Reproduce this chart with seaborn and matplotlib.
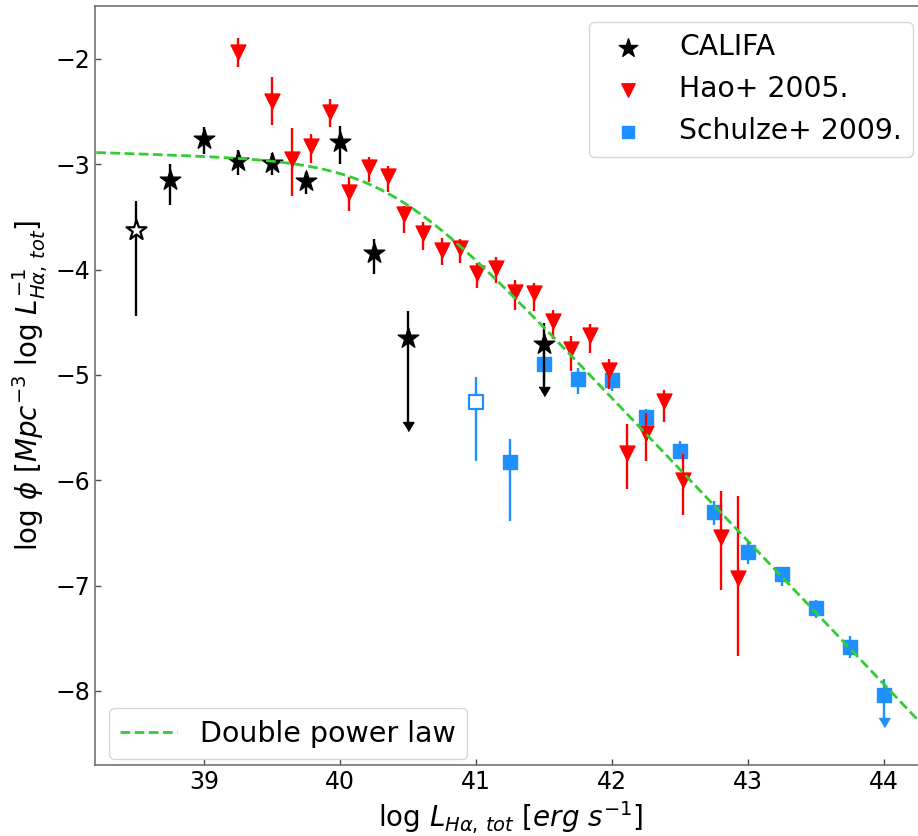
import numpy as np
import matplotlib
matplotlib.use("Agg")
import matplotlib.pyplot as plt
import seaborn as sns

# ---------------- data ----------------
califa_x = [38.5, 38.75, 39.0, 39.25, 39.5, 39.75, 40.0, 40.25, 40.5, 41.5]
califa_y = [-3.62, -3.15, -2.76, -2.97, -2.99, -3.16, -2.79, -3.84, -4.65, -4.71]
califa_hi = [-3.35, -3.00, -2.65, -2.86, -2.89, -3.07, -2.64, -3.71, -4.39, -4.51]
califa_lo = [-4.44, -3.39, -2.90, -3.10, -3.10, -3.28, -3.00, -4.04, -5.45, -5.11]
califa_uplim = [False, False, False, False, False, False, False, False, True, True]
califa_open = [True, False, False, False, False, False, False, False, False, False]

hao_x = [39.25, 39.50, 39.65, 39.79, 39.93, 40.07, 40.21, 40.35, 40.47, 40.61,
         40.75, 40.88, 41.01, 41.15, 41.29, 41.43, 41.57, 41.70, 41.84, 41.98,
         42.11, 42.25, 42.38, 42.52, 42.80, 42.93]
hao_y = [-1.93, -2.40, -2.95, -2.83, -2.50, -3.26, -3.03, -3.11, -3.47, -3.65,
         -3.81, -3.79, -4.03, -3.98, -4.21, -4.22, -4.49, -4.75, -4.62, -4.95,
         -5.74, -5.55, -5.25, -6.00, -6.54, -6.93]
hao_hi = [-1.80, -2.17, -2.66, -2.71, -2.38, -3.12, -2.93, -3.02, -3.40, -3.55,
          -3.70, -3.71, -3.94, -3.88, -4.10, -4.13, -4.38, -4.63, -4.52, -4.85,
          -5.47, -5.36, -5.14, -5.75, -6.10, -6.15]
hao_lo = [-2.08, -2.63, -3.30, -2.99, -2.65, -3.44, -3.17, -3.26, -3.65, -3.81,
          -3.96, -3.94, -4.17, -4.13, -4.38, -4.39, -4.66, -4.96, -4.79, -5.13,
          -6.08, -5.82, -5.45, -6.33, -7.04, -7.67]

sch_x = [41.0, 41.25, 41.5, 41.75, 42.0, 42.25, 42.5, 42.75, 43.0, 43.25, 43.5, 43.75, 44.0]
sch_y = [-5.26, -5.83, -4.90, -5.04, -5.05, -5.40, -5.72, -6.30, -6.68, -6.89, -7.21, -7.58, -8.04]
sch_hi = [-5.02, -5.61, -4.76, -4.93, -4.98, -5.32, -5.63, -6.20, -6.59, -6.82, -7.14, -7.48, -7.89]
sch_lo = [-5.82, -6.39, -5.05, -5.18, -5.15, -5.50, -5.78, -6.42, -6.79, -7.00, -7.31, -7.69, -8.26]
sch_uplim = [False] * 12 + [True]
sch_open = [True] + [False] * 12

# double power law parameters
dpl_logphi = -2.973
dpl_logLstar = 40.35
dpl_alpha = 0.04
dpl_beta = 1.36

tick_x = [39, 40, 41, 42, 43, 44]
tick_y = [-8, -7, -6, -5, -4, -3, -2]

# ---------------- style ----------------
sns.set_style("ticks")
plt.rcParams['font.family'] = ['DejaVu Sans']
plt.rcParams['mathtext.fontset'] = 'dejavusans'
plt.rcParams['text.color'] = 'black'
plt.rcParams['axes.labelcolor'] = 'black'
plt.rcParams['xtick.color'] = 'black'
plt.rcParams['ytick.color'] = 'black'

C_CAL = 'black'
C_HAO = 'red'
C_SCH = '#1E90FF'
C_DPL = '#32CD32'

fig = plt.figure(figsize=(9.18, 8.36), dpi=100)
W, H = 918, 836
ax = fig.add_axes([95 / W, 1 - 765 / H, (926 - 95) / W, (765 - 6) / H])

arrow = [(-0.6, 0.0), (0.6, 0.0), (0.0, -1.0)]


def draw_set(x, y, hi, lo, uplim, opn, color, marker, size, zbase, label):
    x = np.asarray(x); y = np.asarray(y)
    hi = np.asarray(hi); lo = np.asarray(lo)
    uplim = np.asarray(uplim); opn = np.asarray(opn)
    ax.errorbar(x, y, yerr=[y - lo, hi - y], fmt='none', ecolor=color,
                elinewidth=1.7, capsize=0, zorder=zbase)
    if uplim.any():
        ax.plot(x[uplim], lo[uplim], linestyle='none', marker=arrow,
                markersize=13, color=color, mew=1, zorder=zbase)
    sns.scatterplot(x=x[~opn], y=y[~opn], ax=ax, marker=marker, s=size,
                    color=color, edgecolor=color, linewidth=1,
                    zorder=zbase + 0.5, label=label, legend=False)
    if opn.any():
        sns.scatterplot(x=x[opn], y=y[opn], ax=ax, marker=marker, s=size * 0.95,
                        facecolor='white', edgecolor=color, linewidth=1.6,
                        zorder=zbase + 0.5, legend=False)
    return ax.collections[-1 - int(opn.any())]


h_sch = draw_set(sch_x, sch_y, sch_hi, sch_lo, sch_uplim, sch_open, C_SCH, 's', 95, 2, 'Schulze+ 2009.')
h_hao = draw_set(hao_x, hao_y, hao_hi, hao_lo, [False] * len(hao_x), [False] * len(hao_x),
                 C_HAO, 'v', 115, 3, 'Hao+ 2005.')
h_cal = draw_set(califa_x, califa_y, califa_hi, califa_lo, califa_uplim, califa_open,
                 C_CAL, '*', 240, 4, 'CALIFA')

xs = np.linspace(38.0, 44.5, 400)
d = xs - dpl_logLstar
ys = dpl_logphi - np.log10(10 ** (dpl_alpha * d) + 10 ** (dpl_beta * d))
sns.lineplot(x=xs, y=ys, ax=ax, color=C_DPL, linestyle='--', linewidth=2.0,
             zorder=6, label='Double power law', legend=False, sort=False)
h_dpl = ax.lines[-1]
h_dpl.set_dashes([3.5, 1.6])

ax.set_xlim(38.199, 44.309)
ax.set_ylim(-8.703, -1.497)
ax.set_xticks(tick_x)
ax.set_yticks(tick_y)
ax.tick_params(direction='in', length=4, width=1, colors='0.3', labelsize=17,
               labelcolor='black', top=False, right=False)
for s in ax.spines.values():
    s.set_color('0.4')
    s.set_linewidth(1.1)

ax.set_xlabel(r'log $L_{H\alpha,\,tot}$ $[erg$ $s^{-1}]$', fontsize=20)
ax.set_ylabel(r'log $\phi$ $[Mpc^{-3}$ log $L_{H\alpha,\,tot}^{-1}]$', fontsize=20)

AW, AH = 831, 759
leg1 = ax.legend(handles=[h_cal, h_hao, h_sch],
                 labels=['CALIFA', 'Hao+ 2005.', 'Schulze+ 2009.'],
                 loc='upper right', bbox_to_anchor=((913 - 95) / AW, (765 - 22) / AH),
                 borderaxespad=0, fontsize=20.3, markerscale=0.9)
ax.add_artist(leg1)
leg2 = ax.legend(handles=[h_dpl], labels=['Double power law'], loc='lower left',
                 bbox_to_anchor=(14 / AW, 6 / AH), borderaxespad=0, fontsize=20.5)

fig.savefig('out.png', dpi=100)
